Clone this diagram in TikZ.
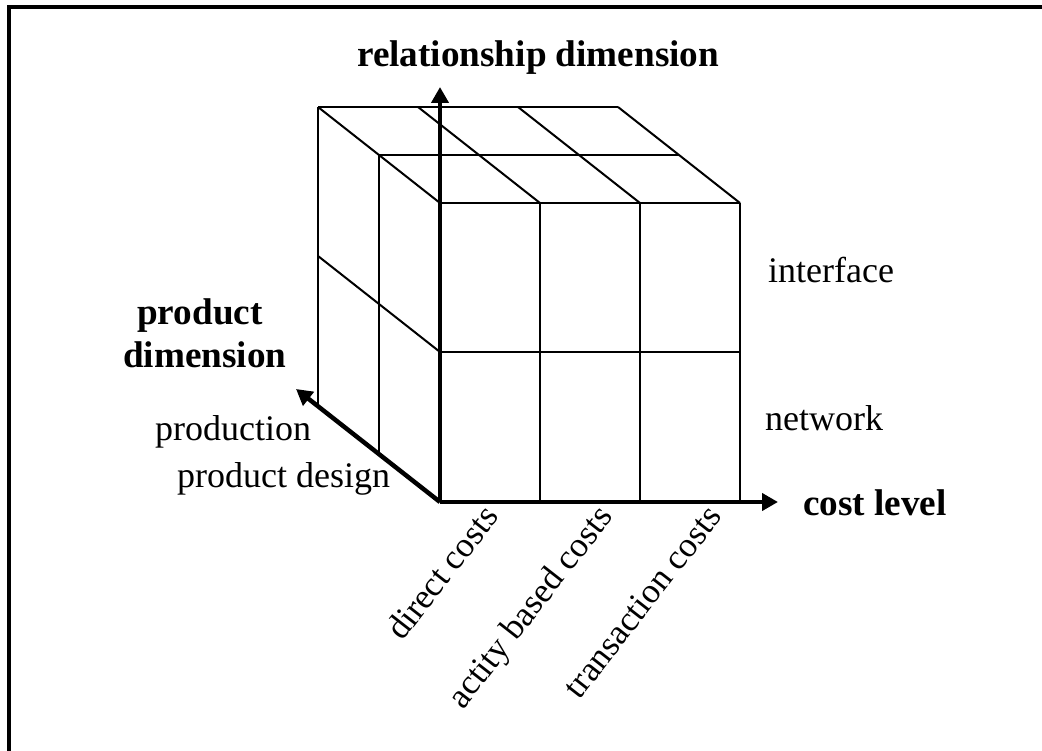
\documentclass[tikz,border=0pt]{standalone}
\usepackage{fontspec}
\setmainfont{Liberation Serif}
\usetikzlibrary{arrows.meta}
\begin{document}
\begin{tikzpicture}[x=1pt,y=-1pt,
  gridline/.style={line width=2pt},
  axis/.style={line width=4.5pt,-{Triangle[length=16pt,width=17pt]}},
  frameline/.style={line width=4.3pt},
  lbl/.style={font=\fontsize{36}{43}\selectfont, inner sep=0pt, anchor=base west},
  blbl/.style={font=\fontsize{37.2}{44}\selectfont\bfseries, inner sep=0pt, anchor=base west},
  rlbl/.style={font=\fontsize{35}{42}\selectfont, inner sep=0pt, anchor=base east, rotate=52}]
\useasboundingbox (0,0) rectangle (1042,751);
% frame (top and left only)
\coordinate (fbl) at (9,751);
\coordinate (ftl) at (9,7);
\coordinate (ftr) at (1042,7);
\draw[frameline] (fbl) -- (ftl) -- (ftr);
% front face
\coordinate (O)  at (440,502);
\coordinate (f1b) at (540,502);
\coordinate (f2b) at (640,502);
\coordinate (f3b) at (740,502);
\coordinate (f0m) at (440,352);
\coordinate (f3m) at (740,352);
\coordinate (f0t) at (440,203);
\coordinate (f1t) at (540,203);
\coordinate (f2t) at (640,203);
\coordinate (f3t) at (740,203);
% middle depth
\coordinate (m0t) at (379,155);
\coordinate (m3t) at (679,155);
\coordinate (m0b) at (379,454);
% back
\coordinate (b0t) at (318,107);
\coordinate (b1t) at (418,107);
\coordinate (b2t) at (518,107);
\coordinate (b3t) at (618,107);
\coordinate (b0m) at (318,256);
\coordinate (b0b) at (318,406);
% axis tips
\coordinate (ytip) at (440,87);
\coordinate (xtip) at (778,502);
\coordinate (ztip) at (296,389);
% front grid
\draw[gridline] (f0t) -- (f3t);
\draw[gridline] (f0m) -- (f3m);
\draw[gridline] (f1t) -- (f1b);
\draw[gridline] (f2t) -- (f2b);
\draw[gridline] (f3t) -- (f3b);
% top face
\draw[gridline] (b0t) -- (b3t);
\draw[gridline] (m0t) -- (m3t);
\draw[gridline] (f0t) -- (b0t);
\draw[gridline] (f1t) -- (b1t);
\draw[gridline] (f2t) -- (b2t);
\draw[gridline] (f3t) -- (b3t);
% left face
\draw[gridline] (b0t) -- (b0b);
\draw[gridline] (m0t) -- (m0b);
\draw[gridline] (b0m) -- (f0m);
% axes
\draw[axis] (O) -- (ytip);
\draw[axis] (O) -- (xtip);
\draw[axis] (O) -- (ztip);
% labels
\node[blbl] (rel) at (357,67) {relationship dimension};
\node[blbl] (pd1) at (137,325) {product};
\node[blbl] (pd2) at (123,367) {dimension};
\node[lbl] (prod) at (155,440) {production};
\node[lbl] (pdes) at (177,487) {product design};
\node[lbl] (intf) at (768,283) {interface};
\node[lbl] (netw) at (765,430) {network};
\node[blbl] (cost) at (803,515) {cost level};
\node[rlbl] (dc) at (500,517) {direct costs};
\node[rlbl] (abc) at (614,517) {actity based costs};
\node[rlbl] (tc) at (723,517) {transaction costs};
\end{tikzpicture}
\end{document}
